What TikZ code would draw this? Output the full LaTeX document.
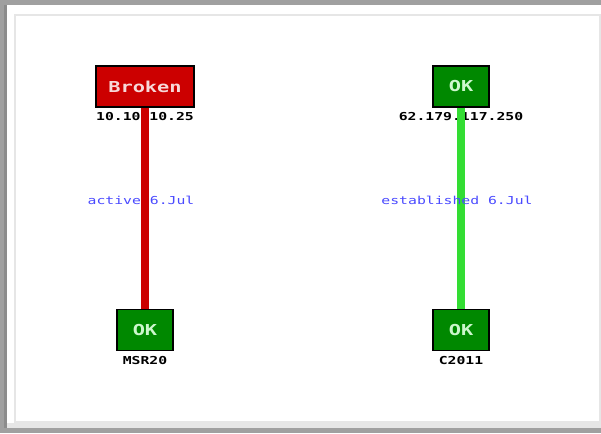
\documentclass[tikz,border=0pt]{standalone}
\usepackage{fontspec}
\newfontfamily\pixfont[FakeStretch=1.35]{DejaVu Sans Mono}
\usetikzlibrary{positioning}
\definecolor{mapFrame}{HTML}{a0a0a0}
\definecolor{mapShade}{HTML}{8c8c8c}
\definecolor{mapEdge}{HTML}{e6e6e6}
\definecolor{mapRed}{HTML}{cc0000}
\definecolor{mapGreen}{HTML}{008800}
\definecolor{mapLime}{HTML}{33dd33}
\definecolor{mapBlue}{HTML}{4a4aff}
\tikzset{
  dev/.style={draw=black, line width=0.8pt, text=white, inner sep=0pt,
              minimum width=42pt, minimum height=30.75pt,
              font=\pixfont\bfseries\fontsize{11.3}{12}\selectfont},
  devok/.style={dev, fill=mapGreen, text=white!75!mapLime},
  devbad/.style={dev, fill=mapRed, minimum width=73.5pt, text=white!85!mapRed},
  addr/.style={font=\pixfont\bfseries\fontsize{8.2}{9}\selectfont, inner sep=1pt},
  lbl/.style={font=\pixfont\fontsize{8.2}{9}\selectfont, text=mapBlue, inner sep=1pt},
  linkdown/.style={draw=mapRed, line width=6pt},
  linkup/.style={draw=mapLime, line width=5.5pt},
}
\begin{document}
\begin{tikzpicture}[x=0.75pt, y=-0.75pt]
    \useasboundingbox (0,0) rectangle (601,433);
    % frame
    \fill[mapFrame] (0,0) rectangle (601,433);
    \fill[mapShade] (4,5) rectangle (7,428);
    \fill[white] (7,5) rectangle (601,428);
    \fill[mapEdge] (7,423) rectangle (601,428);
    \draw[mapEdge, line width=1pt] (15,15) rectangle (600,422);
    % nodes
    \node[devbad] (broken) at (145,86.5) {Broken};
    \node[devok] (okwest) at (145,330) {OK};
    \node[devok] (okeast) at (461,86.5) {OK};
    \node[devok] (okc2011) at (461,330) {OK};
    \node[addr, below=2.5pt of broken] (ipwest) {10.10.10.25};
    \node[addr, below=2.5pt of okwest] (msr) {MSR20};
    \node[addr, below=2.5pt of okeast] (ipeast) {62.179.117.250};
    \node[addr, below=2.5pt of okc2011] (c2011) {C2011};
    % links
    \draw[linkdown] (broken) -- node[lbl, xshift=-3pt, yshift=6pt] {active 6.Jul} (okwest);
    \draw[linkup] (okeast) -- node[lbl, xshift=-3pt, yshift=6pt] {established 6.Jul} (okc2011);
\end{tikzpicture}
\end{document}
